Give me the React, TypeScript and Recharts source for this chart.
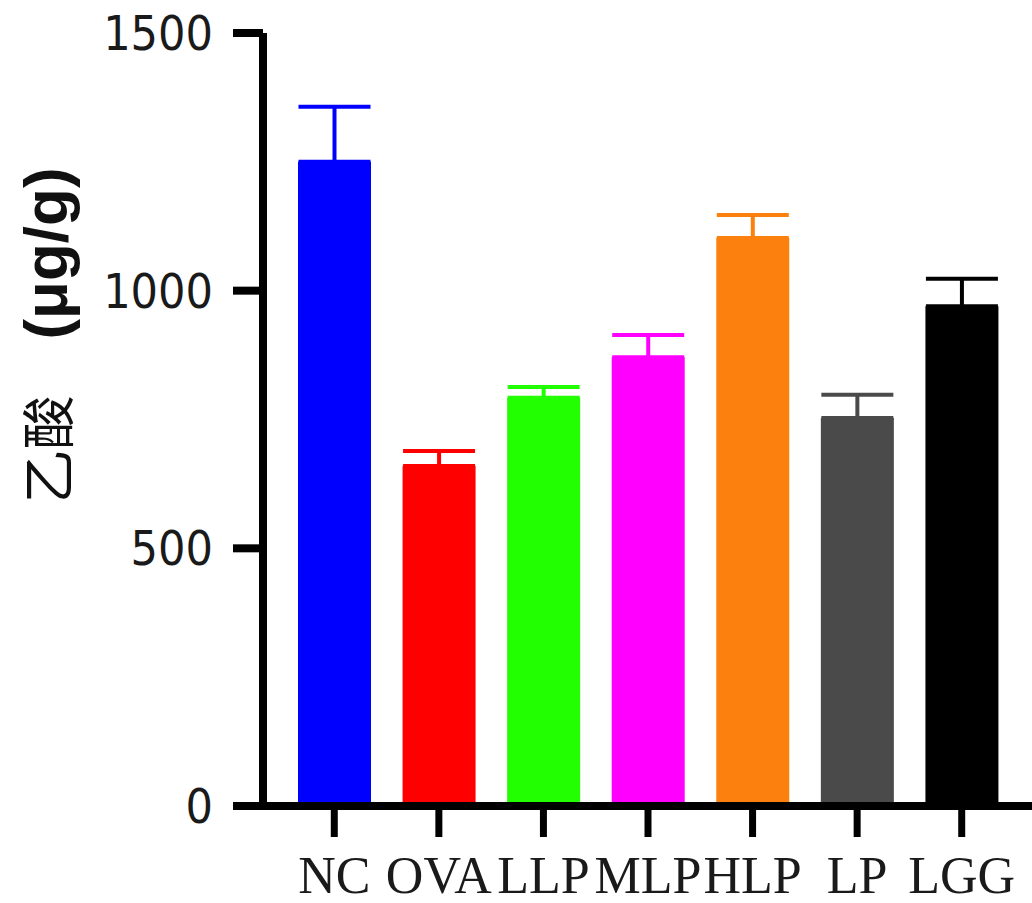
import { BarChart, Bar, Cell, XAxis, YAxis, ErrorBar } from 'recharts'

// group labels, means and upper error (SEM)
const groups = ['NC', 'OVA', 'LLP', 'MLP', 'HLP', 'LP', 'LGG']
const means = [1250, 660, 792, 871, 1102, 753, 970]
const errors = [107, 29, 21, 43, 45, 45, 53]
const colors = ['#0000ff', '#ff0000', '#22ff00', '#ff00ff', '#fb800d', '#4a4a4a', '#000000']
const yTicks = [0, 500, 1000, 1500]

const data = groups.map((name, i) => ({ name, value: means[i], err: [0, errors[i]] }))

const TICK_FONT = '"DejaVu Sans Condensed", "Liberation Sans", sans-serif'

const YLabel = ({ viewBox }: { viewBox?: { x: number; y: number; height: number } }) => {
  if (!viewBox) return null
  const cx = viewBox.x + 45
  const cy = viewBox.y + viewBox.height / 2 - 84
  return (
    <text
      x={cx}
      y={cy}
      transform={`rotate(-90, ${cx}, ${cy})`}
      textAnchor="middle"
      dominantBaseline="central"
      fill="#111"
    >
      <tspan fontFamily='"Noto Sans CJK SC", sans-serif' fontSize={54}>乙酸</tspan>
      <tspan dx={56} fontFamily='"Liberation Sans", Arial, sans-serif' fontWeight="bold" fontSize={62}>
        (μg/g)
      </tspan>
    </text>
  )
}

export default function App() {
  return (
    <div style={{ position: 'absolute', left: 0, top: 0, background: '#fff' }}>
      <BarChart
        width={1032}
        height={903}
        data={data}
        margin={{ top: 33, right: 0, bottom: 0, left: 0 }}
      >
        <XAxis
          dataKey="name"
          height={97}
          interval={0}
          padding={{ left: 19, right: 18 }}
          tickSize={31}
          tickMargin={19}
          axisLine={{ stroke: '#000', strokeWidth: 8 }}
          tickLine={{ stroke: '#000', strokeWidth: 7 }}
          tick={{ fill: '#1a1a1a', fontSize: 52, fontFamily: '"Liberation Serif", "Times New Roman", serif' }}
        />
        <YAxis
          width={263}
          domain={[0, 1500]}
          ticks={yTicks}
          interval={0}
          tickSize={30}
          tickMargin={20}
          axisLine={{ stroke: '#000', strokeWidth: 8 }}
          tickLine={{ stroke: '#000', strokeWidth: 8 }}
          tick={{ fill: '#1a1a1a', fontSize: 48, fontFamily: TICK_FONT }}
          label={<YLabel />}
        />
        <Bar dataKey="value" barSize={73} isAnimationActive={false}>
          {data.map((d, i) => (
            <Cell key={d.name} fill={colors[i]} />
          ))}
          {groups.map((g, i) => (
            <ErrorBar
              key={g}
              dataKey={(d: { name: string; err: number[] }) => (d.name === g ? d.err : undefined)}
              width={36}
              strokeWidth={4}
              stroke={colors[i]}
              direction="y"
              isAnimationActive={false}
            />
          ))}
        </Bar>
      </BarChart>
    </div>
  )
}
